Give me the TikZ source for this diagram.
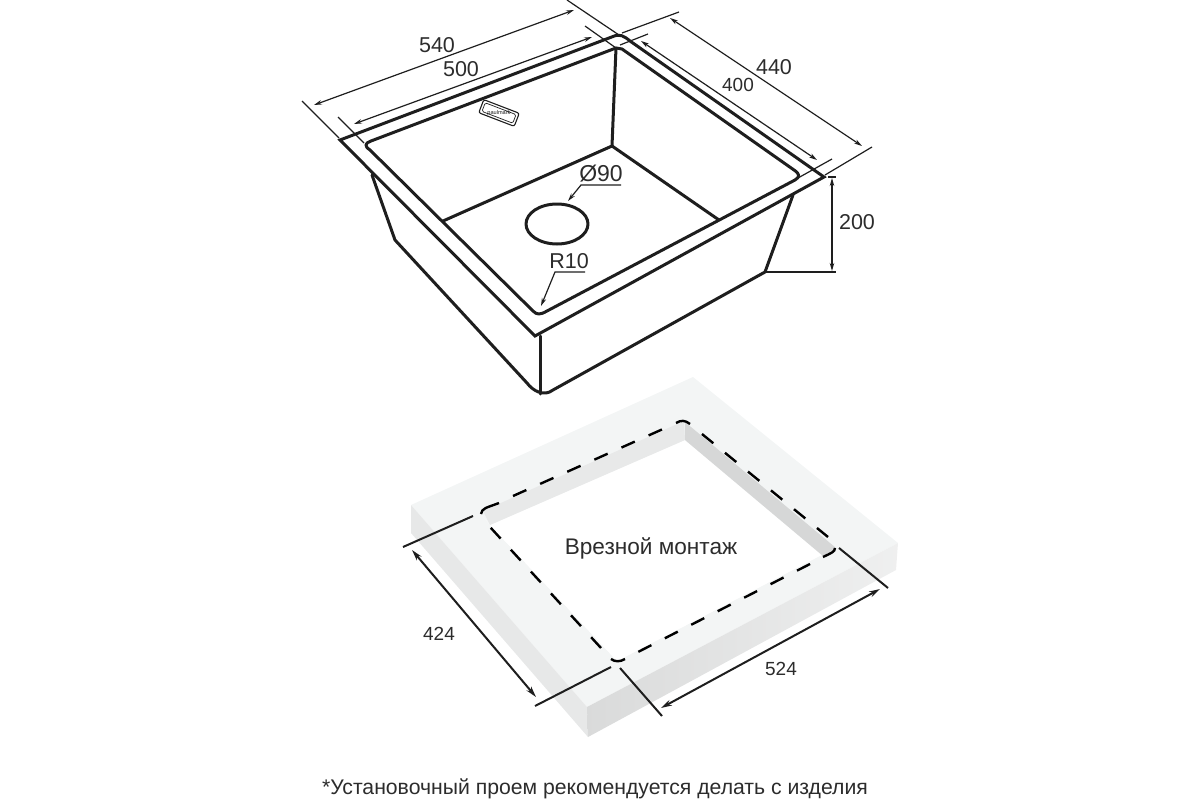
\documentclass[tikz,border=0pt]{standalone}
\usepackage{fontspec}
\setmainfont{Liberation Sans}
\usetikzlibrary{arrows.meta}
\definecolor{topface}{HTML}{F3F5F5}
\definecolor{sideface}{HTML}{E7E8E8}
\definecolor{wallA}{HTML}{E8E9E9}
\definecolor{wallB}{HTML}{D6D7D7}
\definecolor{ink}{HTML}{1E1E1E}
\definecolor{txt}{HTML}{2C2C2C}
\tikzset{
  sinkline/.style={draw=ink,line width=3pt,line join=round,line cap=round},
  rimline/.style={draw=ink,line width=3pt,line join=miter,miter limit=3},
  thindim/.style={draw=ink,line width=1.2pt},
  dimarrow/.style={draw=ink,line width=1.2pt,{Stealth[length=8pt,width=4.5pt]}-{Stealth[length=8pt,width=4.5pt]}},
  leaderline/.style={draw=ink,line width=1.2pt,-{Stealth[length=8pt,width=4.5pt]}},
  platedim/.style={draw=ink,line width=2pt},
  platearrow/.style={draw=ink,line width=2pt,{Stealth[length=11pt,width=6pt]}-{Stealth[length=11pt,width=6pt]}},
  cutdash/.style={draw=black,line width=2.4pt,dash pattern=on 14.6pt off 15.1pt},
  cutcorner/.style={draw=black,line width=2.4pt},
  dimtext/.style={text=txt,font=\fontsize{21.5}{26}\selectfont,inner sep=0pt},
  smalltext/.style={text=txt,font=\fontsize{19}{23}\selectfont,inner sep=0pt},
  mounttext/.style={text=txt,font=\fontsize{22.6}{27}\selectfont,inner sep=0pt},
  notetext/.style={text=txt,font=\fontsize{21.2}{26}\selectfont,inner sep=0pt}
}
\begin{document}
\begin{tikzpicture}[x=1pt,y=-1pt]
\useasboundingbox (0,0) rectangle (1200,800);
% ---- sink
\draw[rimline] (340,140) -- (613,36.5) .. controls (620,33.5) and (624,36) .. (630,41) -- (824,177) -- (535,336) -- cycle;
\draw[sinkline] (370,150) .. controls (364,146) and (365,143) .. (371,141) -- (616,48)
  -- (622,49) -- (794,170) .. controls (800,174) and (800,177) .. (795,180)
  -- (547,311) .. controls (540,315) and (537,315) .. (533,311) -- cycle;
\draw[sinkline] (443,221) -- (612,146) -- (719,220);
\draw[sinkline] (616,48) -- (612,146);
\draw[sinkline] (557,224) ellipse [x radius=31, y radius=20];
\draw[sinkline] (372,175) -- (395,240) -- (527,383) .. controls (533,391) and (544,397) .. (553,390) -- (765,272) -- (793,195);
\draw[sinkline] (540,336) -- (540,394);
% ---- logo
\begin{scope}[shift={(499,113)},rotate=-21]
\draw[draw=ink,line width=1.1pt,rounded corners=2pt] (-19,-7) rectangle (19,7);
\draw[draw=ink,line width=.7pt,rounded corners=1.5pt] (-16.5,-4.6) rectangle (16.5,4.6);
\node[text=ink,font=\fontsize{5.6}{6}\selectfont,inner sep=0pt] (logo) at (0,0) {paulmark};
\end{scope}
% ---- upper dimensions
\coordinate (a1) at (302,101); \coordinate (a2) at (339,138);
\coordinate (a3) at (567,0);   \coordinate (a4) at (619,35);
\draw[thindim] (a1) -- (a2);
\draw[thindim] (a3) -- (a4);
\coordinate (a5) at (314,105); \coordinate (a6) at (574,10);
\draw[dimarrow] (a5) -- (a6);
\coordinate (b1) at (338,117); \coordinate (b2) at (364,143);
\coordinate (b3) at (585,26);  \coordinate (b4) at (616,48);
\draw[thindim] (b1) -- (b2);
\draw[thindim] (b3) -- (b4);
\coordinate (b5) at (354,124); \coordinate (b6) at (592,37);
\draw[dimarrow] (b5) -- (b6);
\coordinate (c1) at (622,33);  \coordinate (c2) at (679,12);
\coordinate (c3) at (825,175); \coordinate (c4) at (872,147);
\draw[thindim] (c1) -- (c2);
\draw[thindim] (c3) -- (c4);
\coordinate (c5) at (670,18);  \coordinate (c6) at (862,146);
\draw[dimarrow] (c5) -- (c6);
\coordinate (d1) at (620,45);  \coordinate (d2) at (648,34);
\coordinate (d3) at (798,178); \coordinate (d4) at (832,159);
\draw[thindim] (d1) -- (d2);
\draw[thindim] (d3) -- (d4);
\coordinate (d5) at (641,41);  \coordinate (d6) at (817,160);
\draw[dimarrow] (d5) -- (d6);
\coordinate (e1) at (828,177); \coordinate (e2) at (836,177);
\coordinate (e3) at (765,272); \coordinate (e4) at (836,272);
\draw[thindim] (e1) -- (e2);
\draw[thindim] (e3) -- (e4);
\coordinate (e5) at (832,178); \coordinate (e6) at (832,271);
\draw[dimarrow] (e5) -- (e6);
\node[dimtext] (t540) at (437,45) {540};
\node[dimtext] (t500) at (461,69) {500};
\node[dimtext] (t440) at (774,67) {440};
\node[smalltext] (t400) at (738,85) {400};
\node[dimtext] (t200) at (857,222) {200};
\node[dimtext,font=\fontsize{23}{27}\selectfont] (t90) at (601,174) {Ø90};
\node[dimtext] (tr10) at (569,261) {R10};
\coordinate (f1) at (621,185); \coordinate (f2) at (581,185); \coordinate (f3) at (568,201);
\draw[leaderline] (f1) -- (f2) -- (f3);
\coordinate (g1) at (585,272); \coordinate (g2) at (555,272); \coordinate (g3) at (541,306);
\draw[leaderline] (g1) -- (g2) -- (g3);
% ---- worktop
\fill[topface] (411,505) -- (693,377) -- (898,543) -- (587,707) -- cycle;
\fill[sideface] (411,505) -- (411,533) -- (588,737) -- (587,707) -- cycle;
\shade[left color=wallB!92!white,right color=wallA!70!white] (587,707) -- (898,543) -- (896,570) -- (588,737) -- cycle;
\fill[white] (481,514) -- (490,525) -- (617,661) -- (835,548) -- (823,556) -- (685,440) -- (490,525) -- cycle;
\fill[white] (490,525) -- (685,440) -- (823,556) -- (835,548) -- (617,661) -- cycle;
\fill[wallA] (483,511) -- (684,421) -- (685,440) -- (490,525) -- cycle;
\fill[wallB] (685,422) -- (685,440) -- (823,556) -- (836,548) -- cycle;
% ---- cut-out outline
\draw[cutdash] (513,496) -- (663,429);
\draw[cutdash] (702,434) -- (828,537);
\draw[cutdash] (810,564) -- (638,652);
\draw[cutdash] (601,648) -- (490,527);
\draw[cutcorner] (481,514) .. controls (482,508) and (486,508) .. (499,503);
\draw[cutcorner] (676,423) .. controls (681,420) and (685,420) .. (690,424);
\draw[cutcorner] (823,557) .. controls (831,553) and (835,552) .. (835,548);
\draw[cutcorner] (611,659) .. controls (615,662) and (620,662) .. (625,659);
% ---- lower dimensions
\coordinate (h1) at (403,547); \coordinate (h2) at (473,516);
\coordinate (h3) at (535,706); \coordinate (h4) at (611,667);
\draw[platedim] (h1) -- (h2);
\draw[platedim] (h3) -- (h4);
\coordinate (h5) at (412,550); \coordinate (h6) at (536,697);
\draw[platearrow] (h5) -- (h6);
\coordinate (i1) at (839,548); \coordinate (i2) at (888,588);
\coordinate (i3) at (620,668); \coordinate (i4) at (662,716);
\draw[platedim] (i1) -- (i2);
\draw[platedim] (i3) -- (i4);
\coordinate (i5) at (661,708); \coordinate (i6) at (880,589);
\draw[platearrow] (i5) -- (i6);
\node[smalltext] (t424) at (439,634) {424};
\node[smalltext] (t524) at (781,669) {524};
\node[mounttext] (tmount) at (651,548) {Врезной монтаж};
\node[notetext,anchor=base] (tnote) at (595,794) {*Установочный проем рекомендуется делать с изделия};
\end{tikzpicture}
\end{document}
